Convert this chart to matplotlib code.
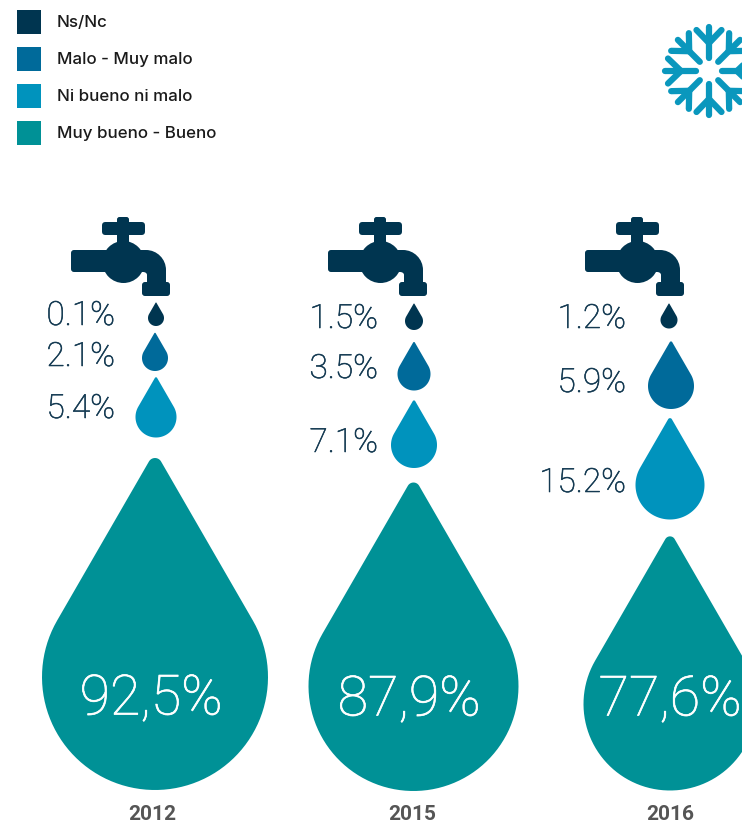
import numpy as np
import matplotlib
matplotlib.use("Agg")
import matplotlib.pyplot as plt
import matplotlib.patheffects as pe
from matplotlib.patches import Circle, FancyBboxPatch, PathPatch, Rectangle
from matplotlib.path import Path

years = ["2012", "2015", "2016"]
categories = ["Ns/Nc", "Malo - Muy malo", "Ni bueno ni malo", "Muy bueno - Bueno"]
colors = ["#003550", "#006a9a", "#0093bd", "#009196"]

ns_nc = [0.1, 1.5, 1.2]
malo = [2.1, 3.5, 5.9]
ni_ni = [5.4, 7.1, 15.2]
bueno = [92.5, 87.9, 77.6]
series = [ns_nc, malo, ni_ni, bueno]

# layout in pixels (one row per category)
drop_x = [[156, 414, 669], [155, 414, 671], [156, 414, 670], [155, 413.5, 670]]
drop_y = [[318, 321, 320], [358, 374, 386], [417, 445, 485], [677, 686, 704]]
drop_r = [[8, 9, 8.5], [13, 16.5, 23], [20.5, 23, 34.5], [113, 105, 86.5]]
label_x = [115, 378, 626]
label_y = [[316, 319, 319], [357, 369, 383], [409, 443, 483]]
big_x = [151, 409, 670]
big_y = [699, 700, 700]
year_x = [152, 412, 670]
faucet_dx = [0, 257, 514]
legend_y = [10, 47, 84, 121]

TEXT_DARK = "#143a52"
FONT = "Roboto"


def drop_path(cx, cy, r):
    # circle at the bottom, straight sides at 30 deg, small round tip (y grows downward)
    a = np.radians(np.linspace(-30, 210, 80))
    xs = list(cx + r * np.cos(a))
    ys = list(cy + r * np.sin(a))
    rt = 0.062 * r
    tip_y = cy - 2 * r + 2 * rt
    b = np.radians(np.linspace(150, 30, 14))
    xs += list(cx + rt * np.cos(b))
    ys += list(tip_y - rt * np.sin(b))
    return Path(np.column_stack([xs, ys]))


def draw_drop(ax, cx, cy, r, color):
    ax.add_patch(PathPatch(drop_path(cx, cy, r), fc=color, ec="none"))


def draw_faucet(ax, dx, color):
    def box(x0, y0, x1, y1, pad):
        ax.add_patch(FancyBboxPatch((x0 + pad + dx, y0 + pad), x1 - x0 - 2 * pad, y1 - y0 - 2 * pad,
                                    boxstyle=f"round,pad={pad}", fc=color, ec="none"))
    box(102, 222, 145, 235, 3.5)
    box(117, 217, 129, 245, 2.5)
    ax.add_patch(Circle((123.5 + dx, 262), 21, fc=color, ec="none"))
    box(71, 250, 112, 272, 3)
    box(142, 282, 170, 296, 3)
    # bent pipe
    k = 0.55
    verts = [(135 + dx, 250), (146 + dx, 250), (146 + k * 20 + dx, 250), (166 + dx, 270 - k * 20), (166 + dx, 270),
             (166 + dx, 286), (147 + dx, 286), (147 + dx, 275), (147 + dx, 273), (145 + dx, 272), (143 + dx, 272),
             (135 + dx, 272), (135 + dx, 250)]
    codes = [Path.MOVETO, Path.LINETO, Path.CURVE4, Path.CURVE4, Path.CURVE4,
             Path.LINETO, Path.LINETO, Path.LINETO, Path.CURVE4, Path.CURVE4, Path.CURVE4,
             Path.LINETO, Path.CLOSEPOLY]
    ax.add_patch(PathPatch(Path(verts, codes), fc=color, ec="none"))


def draw_snowflake(ax, cx, cy, color):
    # eight arms, each with a V near the end
    for ang in np.radians(np.arange(0, 360, 45)):
        u = np.array([np.sin(ang), -np.cos(ang)])
        v = np.array([u[1] * -1, u[0]])
        c = np.array([cx, cy])
        segs = [(c + 13 * u, c + 44 * u),
                (c + 28 * u, c + 41 * u + 12.5 * v),
                (c + 28 * u, c + 41 * u - 12.5 * v)]
        for p, q in segs:
            ax.plot([p[0], q[0]], [p[1], q[1]], color=color, lw=4.5, solid_capstyle="round")


fig = plt.figure(figsize=(7.42, 8.23), dpi=100)
ax = fig.add_axes([0, 0, 1, 1])
ax.set_xlim(0, 742)
ax.set_ylim(823, 0)
ax.axis("off")

# legend
for i, cat in enumerate(categories):
    ax.add_patch(Rectangle((17, legend_y[i]), 24, 24, fc=colors[i], ec="none"))
    ax.text(57, legend_y[i] + 12, cat, fontsize=12.2, color="#1a1a1a", family="Inter", weight="medium", va="center")

draw_snowflake(ax, 709, 71, "#0a97bd")

for j, year in enumerate(years):
    draw_faucet(ax, faucet_dx[j], colors[0])
    for i in range(4):
        draw_drop(ax, drop_x[i][j], drop_y[i][j], drop_r[i][j], colors[i])
    for i in range(3):
        ax.text(label_x[j], label_y[i][j], f"{series[i][j]}%", ha="right", va="center",
                fontsize=24, color=TEXT_DARK, family=FONT, weight="light",
                path_effects=[pe.withStroke(linewidth=0.4, foreground=TEXT_DARK)])
    ax.text(big_x[j], big_y[j], f"{bueno[j]}%".replace(".", ","), ha="center", va="center",
            fontsize=40, color="white", family=FONT, weight="light",
            path_effects=[pe.withStroke(linewidth=0.5, foreground="white")])
    ax.text(year_x[j], 814, year, ha="center", va="center", fontsize=15, color="#555555",
            family=FONT, weight="bold")

fig.savefig("out.png", dpi=100)
